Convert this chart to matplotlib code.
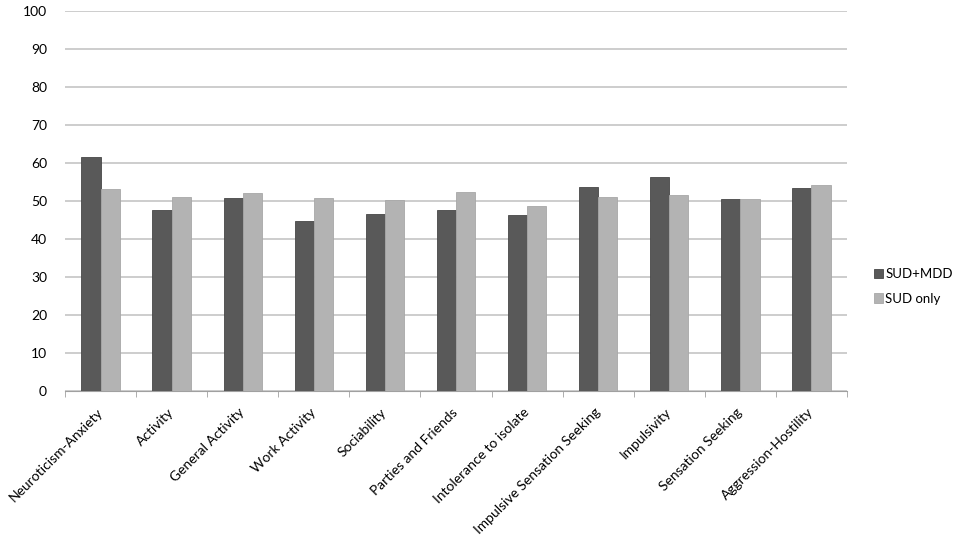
import numpy as np
import matplotlib.pyplot as plt

categories = ["Neuroticism-Anxiety", "Activity", "General Activity", "Work Activity",
              "Sociability", "Parties and Friends", "Intolerance to isolate",
              "Impulsive Sensation Seeking", "Impulsivity", "Sensation Seeking",
              "Aggression-Hostility"]
sud_mdd = [61.7, 47.6, 50.8, 44.8, 46.6, 47.6, 46.2, 53.8, 56.3, 50.4, 53.5]
sud_only = [53.2, 51.1, 52.2, 50.8, 50.3, 52.4, 48.7, 51.1, 51.5, 50.4, 54.2]

plt.rcParams["font.family"] = ["Lato", "DejaVu Sans"]

fig = plt.figure(figsize=(9.57, 5.48), dpi=100)
ax = fig.add_axes([65 / 957, 1 - 391 / 548, (847 - 65) / 957, 380 / 548])

x = np.arange(len(categories))
width = 0.27
ax.bar(x - width / 2, sud_mdd, width, color="#595959", edgecolor="#474747",
       linewidth=0.6, label="SUD+MDD", zorder=3)
ax.bar(x + width / 2, sud_only, width, color="#b3b3b3", edgecolor="#a8a8a8",
       linewidth=0.6, label="SUD only", zorder=3)

ax.set_xlim(-0.5, len(categories) - 0.5)
ax.set_ylim(0, 100)
ax.set_yticks(np.arange(0, 101, 10))
ax.yaxis.grid(True, color="#c0c0c0", linewidth=1.1, zorder=0)
ax.tick_params(axis="y", length=0, pad=13, labelsize=10)

ax.set_xticks(x)
ax.set_xticklabels(categories, rotation=45, ha="right", rotation_mode="anchor",
                   va="center", fontsize=10)
ax.tick_params(axis="x", which="major", length=0, pad=14)
ax.set_xticks(np.arange(-0.5, len(categories), 1), minor=True)
ax.tick_params(axis="x", which="minor", length=4, color="#a0a0a0")

for side in ["top", "right", "left"]:
    ax.spines[side].set_visible(False)
ax.spines["bottom"].set_color("#a0a0a0")

fig.legend(loc="upper left", bbox_to_anchor=(874 / 957, 1 - 268 / 548),
           frameon=False, fontsize=9.5, handlelength=0.7, handleheight=0.7,
           handletextpad=0.15, labelspacing=0.95, borderpad=0, borderaxespad=0)

fig.savefig("out.png", dpi=100)
